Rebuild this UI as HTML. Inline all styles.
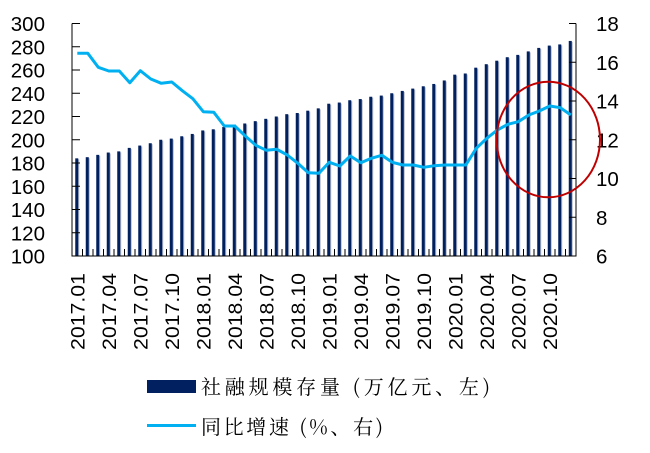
<!DOCTYPE html>
<html><head><meta charset="utf-8"><style>html,body{margin:0;padding:0;background:#fff;}svg{display:block}</style></head>
<body>
<svg id="s" width="650" height="453" xmlns="http://www.w3.org/2000/svg" font-family="Liberation Sans, sans-serif"></svg>
<script>
var s=document.getElementById('s'),h='';
var L=72,R=576,T=23.5,B=256;
var bars=[184,185,187,189,190,193,195,197,200,201,203,205,208,209,211,213,214,216,218,220,222,223,225,227,231,232,234,235,237,238,240,242,244,246,248,251,256,257,262,265,268,271,273,276,279,281,282,285];
var ly=[160,160,202,213,213,248,212,237,250,246,272,296,335,337,378,378,408,436,451,448,465,490,518,520,487,498,468,488,475,466,487,495,495,502,497,495,495,495,445,415,390,373,365,345,333,318,323,345];
function X(i){return L+10.5*(i+0.5);}
for(var i=0;i<48;i++){var x=X(i),y=B-(bars[i]-100)*1.1625;
h+='<rect x="'+(x-1.2)+'" y="'+(y+1)+'" width="3.2" height="'+(B-y-1)+'" fill="#b8bcc8"/>';
h+='<rect x="'+(x-2)+'" y="'+y+'" width="3" height="'+(B-y)+'" fill="#002060"/>';}
h+='<path d="'+'M'+L+' '+T+'V'+B+'H'+R+'V'+T+'" fill="none" stroke="#000" stroke-width="1"/>';
for(var k=0;k<=10;k++){var y=T+(B-T)*k/10;h+='<line x1="'+L+'" x2="'+(L+8)+'" y1="'+y+'" y2="'+y+'" stroke="#000"/>';
h+='<text x="45" y="'+(y+7.5)+'" font-size="20.5" text-anchor="end">'+(300-20*k)+'</text>';}
for(var k=0;k<=6;k++){var y=T+(B-T)*k/6;h+='<line x1="'+(R-7)+'" x2="'+R+'" y1="'+y+'" y2="'+y+'" stroke="#000"/>';
h+='<text x="596" y="'+(y+7.5)+'" font-size="20.5">'+(18-2*k)+'</text>';}
for(var i=0;i<=48;i++){var x=L+10.5*i;h+='<line x1="'+x+'" x2="'+x+'" y1="'+(B-7)+'" y2="'+B+'" stroke="#000"/>';}
var p='';for(var i=0;i<48;i++)p+=(i?'L':'M')+X(i).toFixed(1)+' '+(ly[i]/3).toFixed(1);
h+='<path d="'+p+'" fill="none" stroke="#00B0F0" stroke-width="3" stroke-linejoin="round"/>';
for(var i=0;i<48;i+=3){var yr=2017+Math.floor(i/12),m=(i%12)+1;var x=X(i)+7;
h+='<text transform="translate('+x+',350) rotate(-90)" font-size="19.5" textLength="77" lengthAdjust="spacingAndGlyphs">'+yr+'.'+(m<10?'0':'')+m+'</text>';}
h+='<ellipse cx="548.3" cy="139.5" rx="51.7" ry="57.8" fill="none" stroke="#C00000" stroke-width="2"/>';
h+='<rect x="147" y="380" width="49" height="13" fill="#002060"/>';
h+='<text x="201" y="394" font-size="20" font-family="Noto Serif CJK SC, serif" textLength="289" lengthAdjust="spacing">社融规模存量 (万亿元、左)</text>';
h+='<line x1="147" x2="196" y1="425.5" y2="425.5" stroke="#00B0F0" stroke-width="3"/>';
h+='<text x="201" y="434" font-size="20" font-family="Noto Serif CJK SC, serif" textLength="182" lengthAdjust="spacing">同比增速 (%、右)</text>';
s.innerHTML=h;
</script>
</body></html>
